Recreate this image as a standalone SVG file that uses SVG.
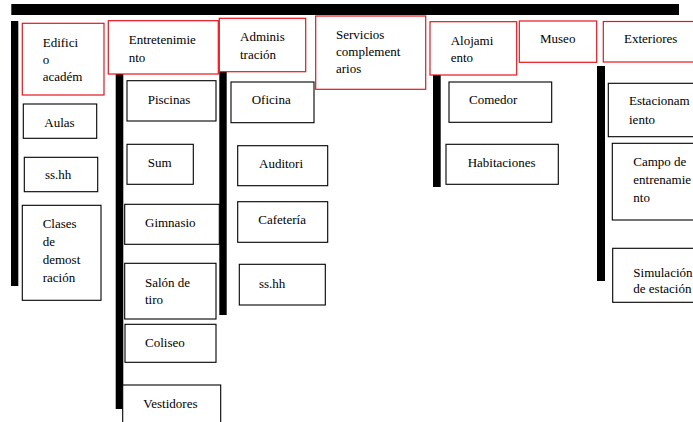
<svg xmlns="http://www.w3.org/2000/svg" width="693" height="422" viewBox="0 0 693 422">
<style>
.bar{fill:#000}
.hdr{fill:#fff;stroke:#e8141b;stroke-width:1.2}
.box{fill:#fff;stroke:#000;stroke-width:1.1}
text{font-size:13px;fill:#000}
</style>
<rect width="693" height="422" fill="#fff"/>
<g id="connectors">
<rect class="bar" x="11.3" y="4" width="667.7" height="11"/>
<rect class="bar" x="11" y="21" width="7.3" height="265"/>
<rect class="bar" x="115.7" y="72" width="7.6" height="337"/>
<rect class="bar" x="219.3" y="72" width="7.4" height="243"/>
<rect class="bar" x="433" y="75" width="7.7" height="112"/>
<rect class="bar" x="597" y="66" width="8" height="215"/>
</g>
<g id="nodes" font-family="'Liberation Serif', 'Times New Roman', 'DejaVu Serif', serif">
<g id="edificio">
<rect class="hdr" x="22.3" y="23.3" width="81.7" height="71.7"/>
<text x="42.7" y="46.7">Edifici</text><text x="42.7" y="64">o</text><text x="42.7" y="81.3">académ</text>
</g>
<g id="entretenimiento">
<rect class="hdr" x="108.3" y="20.7" width="110" height="53.3"/>
<text x="128.7" y="44.3">Entretenimie</text><text x="128.7" y="61.7">nto</text>
</g>
<g id="administracion">
<rect class="hdr" x="219.3" y="18.3" width="86.4" height="53.4"/>
<text x="240" y="40.7">Adminis</text><text x="240" y="58.5">tración</text>
</g>
<g id="servicios">
<rect class="hdr" x="315.7" y="16" width="110" height="73.3"/>
<text x="336" y="38.7">Servicios</text><text x="336" y="56">complement</text><text x="336" y="73.3">arios</text>
</g>
<g id="alojamiento">
<rect class="hdr" x="430" y="21.7" width="86.7" height="53.3"/>
<text x="450.7" y="45">Alojami</text><text x="450.7" y="61.7">ento</text>
</g>
<g id="museo">
<rect class="hdr" x="519.3" y="21" width="77.4" height="41.3"/>
<text x="540" y="43.3">Museo</text>
</g>
<g id="exteriores">
<rect class="hdr" x="603.3" y="21.5" width="100" height="40.5"/>
<text x="624" y="43.3">Exteriores</text>
</g>
<g id="aulas">
<rect class="box" x="23.3" y="104" width="73.4" height="34.3"/>
<text x="44.3" y="127.3">Aulas</text>
</g>
<g id="sshh1">
<rect class="box" x="24.3" y="157.3" width="73.4" height="34.4"/>
<text x="45" y="179">ss.hh</text>
</g>
<g id="clases">
<rect class="box" x="22.3" y="205.3" width="78.7" height="95"/>
<text x="42.7" y="228.3">Clases</text><text x="42.7" y="246">de</text><text x="42.7" y="264">demost</text><text x="42.7" y="281.7">ración</text>
</g>
<g id="piscinas">
<rect class="box" x="127" y="80.7" width="89" height="40.3"/>
<text x="147.7" y="104">Piscinas</text>
</g>
<g id="sum">
<rect class="box" x="127" y="144.3" width="66.3" height="40"/>
<text x="147.7" y="166.7">Sum</text>
</g>
<g id="gimnasio">
<rect class="box" x="124.7" y="204.3" width="94.6" height="40"/>
<text x="145" y="227.3">Gimnasio</text>
</g>
<g id="salon">
<rect class="box" x="124.7" y="263.3" width="91.3" height="55.7"/>
<text x="145" y="286.7">Salón de</text><text x="145" y="304.3">tiro</text>
</g>
<g id="coliseo">
<rect class="box" x="125" y="324.3" width="91" height="38"/>
<text x="145" y="346.7">Coliseo</text>
</g>
<g id="vestidores">
<rect class="box" x="122.7" y="385" width="98" height="45"/>
<text x="143.3" y="407.7">Vestidores</text>
</g>
<g id="oficina">
<rect class="box" x="231" y="82" width="83" height="40.7"/>
<text x="251.7" y="104">Oficina</text>
</g>
<g id="auditori">
<rect class="box" x="237.7" y="145.7" width="90" height="40"/>
<text x="259" y="168.3">Auditori</text>
</g>
<g id="cafeteria">
<rect class="box" x="237.7" y="201.7" width="90" height="40.6"/>
<text x="258.3" y="224.3">Cafetería</text>
</g>
<g id="sshh3">
<rect class="box" x="239.3" y="264.3" width="86" height="40.7"/>
<text x="259" y="288.3">ss.hh</text>
</g>
<g id="comedor">
<rect class="box" x="449" y="82" width="102.7" height="40.3"/>
<text x="469" y="104">Comedor</text>
</g>
<g id="habitaciones">
<rect class="box" x="446" y="144.3" width="112.3" height="40"/>
<text x="467.7" y="166.7">Habitaciones</text>
</g>
<g id="estacionamiento">
<rect class="box" x="608.3" y="83.3" width="100" height="53.4"/>
<text x="629" y="105.3">Estacionam</text><text x="629" y="123.5">iento</text>
</g>
<g id="campo">
<rect class="box" x="612.3" y="143.3" width="100" height="76.7"/>
<text x="633.3" y="166">Campo de</text><text x="633.3" y="184">entrenamie</text><text x="633.3" y="201.7">nto</text>
</g>
<g id="simulacion">
<rect class="box" x="612.7" y="248.3" width="100" height="54"/>
<text x="633.3" y="277">Simulación</text><text x="633.3" y="293">de estación</text>
</g>
</g>
</svg>
